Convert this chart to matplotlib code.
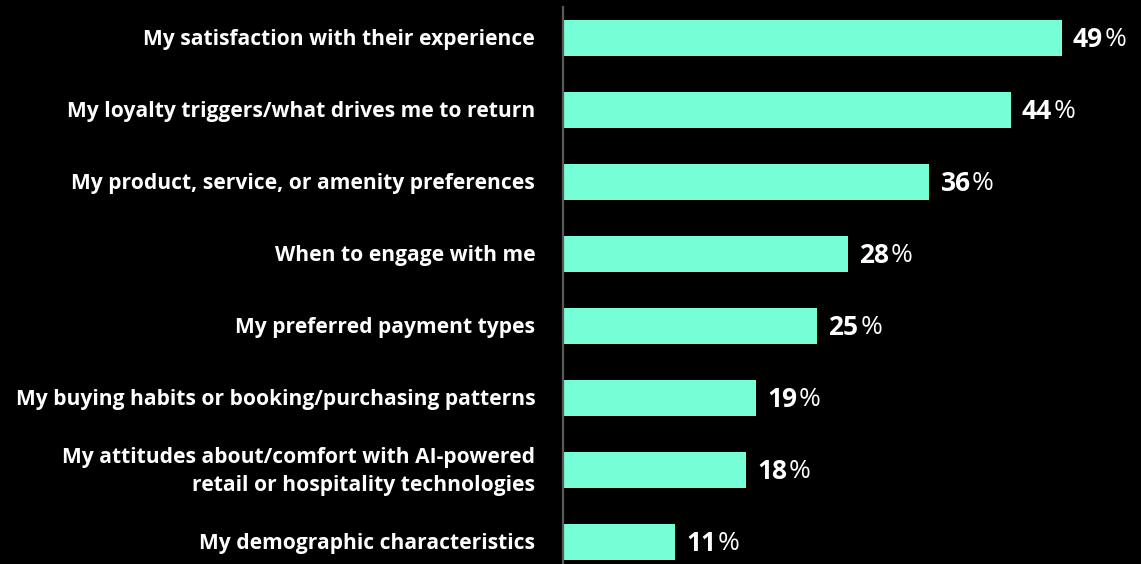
import matplotlib.pyplot as plt

# Share of respondents, by what they'd want AI to learn about them
labels = [
    "My satisfaction with their experience",
    "My loyalty triggers/what drives me to return",
    "My product, service, or amenity preferences",
    "When to engage with me",
    "My preferred payment types",
    "My buying habits or booking/purchasing patterns",
    "My attitudes about/comfort with AI-powered\nretail or hospitality technologies",
    "My demographic characteristics",
]
values = [49, 44, 36, 28, 25, 19, 18, 11]

BAR = "#76FFD6"
FONT = "Open Sans"

fig = plt.figure(figsize=(11.41, 5.64), dpi=100, facecolor="black")
ax = fig.add_axes([563 / 1141, 0, 1 - 563 / 1141, 1 - 7 / 564])
ax.set_facecolor("black")

ypos = list(range(len(values)))
ax.barh(ypos, values, height=0.5, color=BAR, zorder=2)

ax.set_xlim(0, 56.8)
ax.set_ylim(7.306, -0.43)
for side in ["top", "right", "bottom"]:
    ax.spines[side].set_visible(False)
ax.spines["left"].set_color("#5a5a5a")
ax.spines["left"].set_linewidth(1.6)
ax.set_xticks([])
ax.set_yticks([])

# category labels, right-aligned just left of the axis line
for y, lab in zip(ypos, labels):
    ax.annotate(lab, xy=(0, y), xytext=(-20, -1.2), textcoords="offset points",
                ha="right", va="center", color="white", fontsize=15.1,
                fontweight="bold", family=FONT, linespacing=1.42)

# value labels: bold number followed by a lighter percent sign
fig.canvas.draw()
renderer = fig.canvas.get_renderer()
for y, v in zip(ypos, values):
    num = ax.annotate(str(v), xy=(v, y), xytext=(8, -0.8), textcoords="offset points",
                      ha="left", va="center", color="white", fontsize=19,
                      fontweight="bold", family=FONT)
    bb = num.get_window_extent(renderer)
    fig.text((bb.x1 + 1.5) / fig.bbox.width, (bb.y0 + bb.y1) / 2 / fig.bbox.height, "%",
             ha="left", va="center", color="white", fontsize=19,
             fontweight="normal", family=FONT)

fig.savefig("out.png", dpi=100, facecolor="black")
